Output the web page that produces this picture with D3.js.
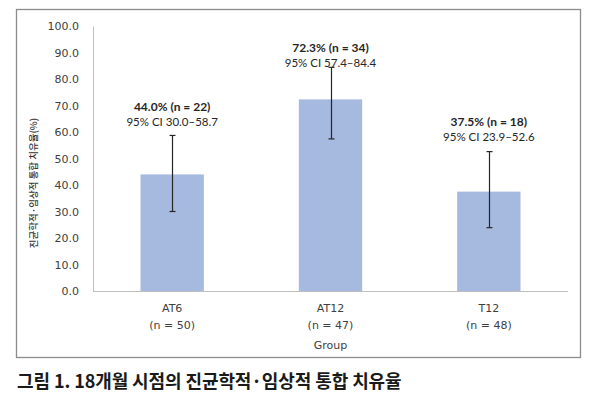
<!DOCTYPE html>
<html>
<head>
<meta charset="utf-8">
<script src="https://cdn.jsdelivr.net/npm/d3@7"></script>
<style>
  body { margin: 0; background: #fff; }
  svg { display: block; }
</style>
</head>
<body>
<div id="chart"></div>
<script>
// Data
const groups = ["AT6", "AT12", "T12"];
const groupN = ["(n = 50)", "(n = 47)", "(n = 48)"];
const rates = [44.0, 72.3, 37.5];
const ciLow = [30.0, 57.4, 23.9];
const ciHigh = [58.7, 84.4, 52.6];
const responders = [22, 34, 18];
const yTicks = [0, 10, 20, 30, 40, 50, 60, 70, 80, 90, 100];

const W = 600, H = 404;
const margin = { top: 26, left: 93, right: 32, bottom: 113 };
const plotW = W - margin.left - margin.right,
  plotH = H - margin.top - margin.bottom;

const svg = d3.select("#chart").append("svg")
  .attr("width", W)
  .attr("height", H);

// outer frame
svg.append("rect")
  .attr("x", 16.5).attr("y", 9.5)
  .attr("width", 564).attr("height", 348)
  .attr("fill", "none")
  .attr("stroke", "#8c8c8c")
  .attr("stroke-width", 1.3);

const g = svg.append("g")
  .attr("transform", `translate(${margin.left},${margin.top})`);

const x = d3.scaleBand().domain(groups).range([0, plotW]).paddingInner(0.6).paddingOuter(0.3);
const y = d3.scaleLinear().domain([0, 100]).range([plotH, 0]);

// y axis
const yAxis = g.append("g")
  .call(d3.axisLeft(y).tickValues(yTicks).tickSize(0).tickPadding(14).tickFormat(d3.format(".1f")));
yAxis.select(".domain").attr("stroke", "#bfbfbf");
yAxis.selectAll(".tick text")
  .attr("fill", "#404040")
  .style("font-family", "DejaVu Sans")
  .style("font-size", "11px");

// baseline
g.append("line")
  .attr("x1", 0).attr("x2", plotW)
  .attr("y1", y(0) + 0.5).attr("y2", y(0) + 0.5)
  .attr("stroke", "#bfbfbf");

// bars
g.selectAll(".bar")
  .data(groups)
  .enter().append("rect")
  .attr("x", d => x(d))
  .attr("width", x.bandwidth())
  .attr("y", (d, i) => y(rates[i]))
  .attr("height", (d, i) => y(0) - y(rates[i]))
  .attr("fill", "#a6b9de");

// error bars
groups.forEach((d, i) => {
  const cx = Math.round(x(d) + x.bandwidth() / 2) + 0.5;
  g.append("line")
    .attr("x1", cx).attr("x2", cx)
    .attr("y1", y(ciLow[i])).attr("y2", y(ciHigh[i]))
    .attr("stroke", "#262626").attr("stroke-width", 1.2);
  [ciLow[i], ciHigh[i]].forEach(v => {
    g.append("line")
      .attr("x1", cx - 3).attr("x2", cx + 3)
      .attr("y1", y(v)).attr("y2", y(v))
      .attr("stroke", "#262626").attr("stroke-width", 1.2);
  });
});

// annotations above bars (offset tweaked per bar like the original)
const labelGap = [9, 0, 11];
groups.forEach((d, i) => {
  const cx = x(d) + x.bandwidth() / 2;
  const base = y(ciHigh[i]) - labelGap[i];
  g.append("text")
    .attr("x", cx).attr("y", base)
    .attr("text-anchor", "middle")
    .attr("fill", "#262626")
    .style("font-family", "Lato")
    .style("font-size", "11.5px")
    .text(`95% CI ${ciLow[i].toFixed(1)}–${ciHigh[i].toFixed(1)}`);
  g.append("text")
    .attr("x", cx).attr("y", base - 15)
    .attr("text-anchor", "middle")
    .attr("fill", "#262626")
    .style("font-family", "Lato")
    .style("font-weight", "bold")
    .style("font-size", "12px")
    .text(`${rates[i].toFixed(1)}% (n = ${responders[i]})`);
});

// x labels
groups.forEach((d, i) => {
  const cx = x(d) + x.bandwidth() / 2;
  g.append("text")
    .attr("x", cx).attr("y", plotH + 21)
    .attr("text-anchor", "middle")
    .attr("fill", "#404040")
    .style("font-family", "DejaVu Sans")
    .style("font-size", "11px")
    .text(d);
  g.append("text")
    .attr("x", cx).attr("y", plotH + 38)
    .attr("text-anchor", "middle")
    .attr("fill", "#404040")
    .style("font-family", "DejaVu Sans")
    .style("font-size", "11px")
    .text(groupN[i]);
});

g.append("text")
  .attr("x", plotW / 2).attr("y", plotH + 58)
  .attr("text-anchor", "middle")
  .attr("fill", "#404040")
  .style("font-family", "DejaVu Sans")
  .style("font-size", "11px")
  .text("Group");

// y axis title
svg.append("text")
  .attr("transform", `translate(37,183) rotate(-90)`)
  .attr("text-anchor", "middle")
  .attr("fill", "#333")
  .style("font-family", "Noto Sans CJK KR")
  .style("font-weight", "500")
  .style("font-size", "9.5px")
  .text("진균학적·임상적 통합 치유율(%)");

// caption
svg.append("text")
  .attr("x", 17).attr("y", 388)
  .attr("fill", "#1a1a1a")
  .style("font-family", "Noto Sans CJK KR")
  .style("font-weight", "bold")
  .style("font-size", "18px")
  .style("letter-spacing", "-0.1px")
  .text("그림 1. 18개월 시점의 진균학적·임상적 통합 치유율");
</script>
</body>
</html>
